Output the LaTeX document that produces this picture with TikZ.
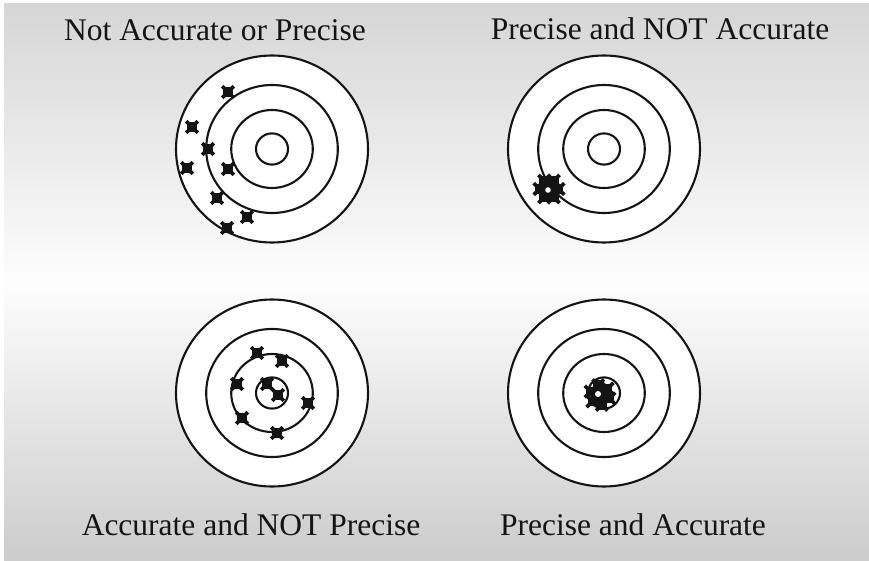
\documentclass[tikz,border=0pt]{standalone}
\usepackage{fontspec}
\usetikzlibrary{calc}
\setmainfont{Liberation Serif}
\definecolor{bgtop}{RGB}{214,214,214}
\definecolor{bgbot}{RGB}{204,204,204}
\definecolor{bgmid}{RGB}{253,253,253}
\definecolor{ink}{RGB}{20,20,20}
\begin{document}
\begin{tikzpicture}[x=1pt,y=-1pt,
  ring/.style={draw=ink, line width=2.1pt},
  lbl/.style={anchor=base, font=\fontsize{31.5}{36}\selectfont, text=ink, inner sep=0pt},
  hit/.pic={\fill[ink] (-4.8,-4.8) rectangle (4.8,4.8);
            \draw[ink, line width=3.6pt] (-5.8,-5.8) -- (5.8,5.8) (-5.8,5.8) -- (5.8,-5.8);}
]
\useasboundingbox (0,0) rectangle (869,561);
\fill[white] (0,0) rectangle (869,561);
\shade[top color=bgtop, bottom color=bgbot, middle color=bgmid] (4,4) rectangle (869,561);

% targets
\foreach \cx/\cy/\nm in {272/149/ta,604/149/tb,272/393/tc,604/393/td} {
  \coordinate (\nm) at (\cx,\cy);
  \fill[white] (\nm) ellipse [x radius=96, y radius=93.5];
  \draw[ring] (\nm) ellipse [x radius=96, y radius=93.5];
  \draw[ring] (\nm) ellipse [x radius=65.8, y radius=64];
  \draw[ring] (\nm) ellipse [x radius=40.8, y radius=39];
  \draw[ring] (\nm) ellipse [x radius=16, y radius=15.6];
}

% Not accurate or precise
\foreach \px/\py in {228/92, 192/127, 208/149, 187/168, 228/169, 217/198, 247/217, 227/228}
  \pic at (\px,\py) {hit};

% Precise and not accurate
\fill[ink] (549,189) circle [radius=10];
\foreach \a in {0,60,...,300}
  \pic at ($(549,189)+(\a:9.5)$) {hit};
\fill[white] (548,190) circle [radius=2.8];

% Accurate and not precise
\foreach \px/\py in {257/353, 282/361, 237/384, 267/384, 278/395, 308/403, 242/418, 277/433}
  \pic at (\px,\py) {hit};

% Precise and accurate
\fill[ink] (600,395) circle [radius=10];
\foreach \a in {20,80,...,320}
  \pic at ($(600,395)+(\a:10)$) {hit};
\fill[white] (598,394) circle [radius=3];

% labels
\node[lbl] (la) at (215,40.5) {Not Accurate or Precise};
\node[lbl] (lb) at (660,39.5) {Precise and NOT Accurate};
\node[lbl] (lc) at (251,535) {Accurate and NOT Precise};
\node[lbl] (ld) at (633,535) {Precise and Accurate};
\end{tikzpicture}
\end{document}
